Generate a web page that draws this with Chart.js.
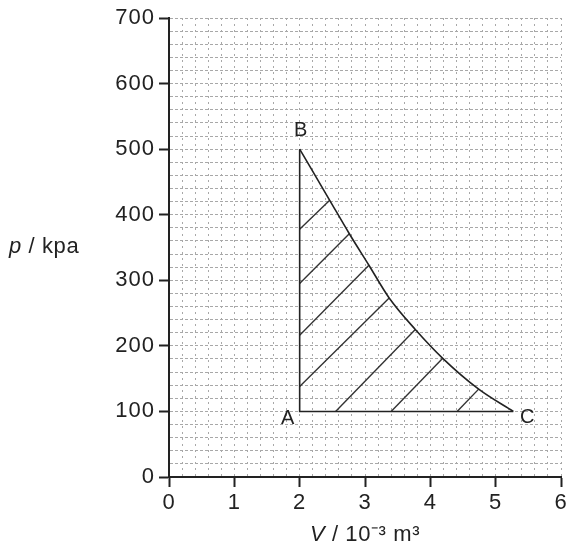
<!DOCTYPE html>
<html>
<head>
<meta charset="utf-8">
<script src="https://cdn.jsdelivr.net/npm/chart.js@4.4.1/dist/chart.umd.min.js"></script>
<style>
html, body { margin: 0; padding: 0; background: #fff; }
canvas { display: block; }
</style>
</head>
<body>
<canvas id="pv" width="571" height="552"></canvas>
<script>
// curve B -> C  (V in 10^-3 m^3, p in kPa)
const curveV = [2.0, 2.46, 2.76, 3.06, 3.37, 3.77, 4.19, 4.74, 5.27];
const curveP = [500, 422, 371, 323, 273, 225, 181, 134, 100];
// straight sides C -> A -> B
const edgeV = [5.27, 2.0, 2.0];
const edgeP = [100, 100, 500];
// hatch lines start on AB / AC and end on curve points 1..7
const hatchV = [2.0, 2.0, 2.0, 2.0, 2.55, 3.40, 4.41];
const hatchP = [378, 295, 216, 138, 100, 100, 100];
// corner letters
const cornerNames = ['A', 'B', 'C'];
const cornerV = [2.0, 2.0, 5.27];
const cornerP = [100, 500, 100];
const cornerDx = [-12, 1, 14];
const cornerDy = [7, -19, 6];
// labelled ticks
const xLabels = [0, 1, 2, 3, 4, 5, 6];
const yLabels = [0, 100, 200, 300, 400, 500, 600, 700];

const FONT = '"Liberation Sans", Arial, sans-serif';
const INK = '#222';

const isLabelled = (list, v) => list.some(t => Math.abs(t - v) < 1e-6);

const pts = (xs, ys) => xs.map((x, i) => ({ x: x, y: ys[i] }));

const datasets = [];
datasets.push({
    data: pts(curveV, curveP),
    borderColor: INK, borderWidth: 1.6,
    cubicInterpolationMode: 'monotone'
});
datasets.push({
    data: pts(edgeV, edgeP),
    borderColor: INK, borderWidth: 1.6, tension: 0
});
hatchV.forEach((v, i) => {
    datasets.push({
        data: [{ x: v, y: hatchP[i] }, { x: curveV[i + 1], y: curveP[i + 1] }],
        borderColor: '#333', borderWidth: 1.4, tension: 0
    });
});

// a little extra letter spacing for the tick numbers
const tracking = {
    id: 'tracking',
    beforeLayout(chart) { chart.ctx.letterSpacing = '1px'; },
    beforeDraw(chart) { chart.ctx.letterSpacing = '1px'; }
};

// corner letters and the two axis titles
const annotate = {
    id: 'annotate',
    afterDraw(chart) {
        const ctx = chart.ctx, xs = chart.scales.x, ys = chart.scales.y, area = chart.chartArea;
        ctx.save();
        ctx.letterSpacing = '0px';
        ctx.fillStyle = INK;
        ctx.font = '20px ' + FONT;
        ctx.textAlign = 'center';
        ctx.textBaseline = 'middle';
        cornerNames.forEach((n, i) => {
            ctx.fillText(n, xs.getPixelForValue(cornerV[i]) + cornerDx[i], ys.getPixelForValue(cornerP[i]) + cornerDy[i]);
        });

        ctx.letterSpacing = '0.6px';
        ctx.textAlign = 'left';
        ctx.textBaseline = 'alphabetic';
        // y title: p / kpa
        let x = 9, y = 253;
        ctx.font = 'italic 22px ' + FONT;
        ctx.fillText('p', x, y);
        x += ctx.measureText('p').width;
        ctx.font = '22px ' + FONT;
        ctx.fillText(' / kpa', x, y);

        // x title: V / 10⁻³ m³
        ctx.font = 'italic 22px ' + FONT;
        const w1 = ctx.measureText('V').width;
        ctx.font = '22px ' + FONT;
        const rest = ' / 10\u207B\u00B3 m\u00B3';
        const w2 = ctx.measureText(rest).width;
        x = (area.left + area.right) / 2 - (w1 + w2) / 2;
        y = 541;
        ctx.font = 'italic 22px ' + FONT;
        ctx.fillText('V', x, y);
        ctx.font = '22px ' + FONT;
        ctx.fillText(rest, x + w1, y);
        ctx.restore();
    }
};

new Chart(document.getElementById('pv'), {
    type: 'scatter',
    data: { datasets: datasets },
    options: {
        responsive: false,
        animation: false,
        showLine: true,
        elements: { point: { radius: 0 } },
        layout: { padding: { top: 18, right: 10, left: 0, bottom: 0 } },
        plugins: { legend: { display: false }, tooltip: { enabled: false } },
        scales: {
            x: {
                type: 'linear', min: 0, max: 6,
                afterFit: s => { s.height = 75; },
                afterBuildTicks: s => {
                    s.ticks = [];
                    for (let i = 0; i <= 30; i++) s.ticks.push({ value: i / 5 });
                },
                ticks: {
                    autoSkip: false, maxRotation: 0, minRotation: 0, padding: 3,
                    color: INK, font: { family: FONT, size: 22 },
                    callback: v => isLabelled(xLabels, v) ? String(Math.round(v)) : ''
                },
                grid: {
                    color: '#a8a8a8', lineWidth: 1, tickLength: 10, tickWidth: 2,
                    tickColor: c => (c.tick && isLabelled(xLabels, c.tick.value)) ? INK : 'rgba(0,0,0,0)'
                },
                border: { color: INK, width: 2, dash: [2, 4] }
            },
            y: {
                type: 'linear', min: 0, max: 700,
                afterFit: s => { s.width = 169; },
                afterBuildTicks: s => {
                    s.ticks = [];
                    for (let v = 0; v <= 700; v += 20) s.ticks.push({ value: v });
                },
                ticks: {
                    autoSkip: false, padding: 4,
                    color: INK, font: { family: FONT, size: 22 },
                    callback: v => isLabelled(yLabels, v) ? String(v) : ''
                },
                grid: {
                    color: '#a8a8a8', lineWidth: 1, tickLength: 10, tickWidth: 2,
                    tickColor: c => (c.tick && isLabelled(yLabels, c.tick.value)) ? INK : 'rgba(0,0,0,0)'
                },
                border: { color: INK, width: 2, dash: [3, 2] }
            }
        }
    },
    plugins: [tracking, annotate]
});
</script>
</body>
</html>
